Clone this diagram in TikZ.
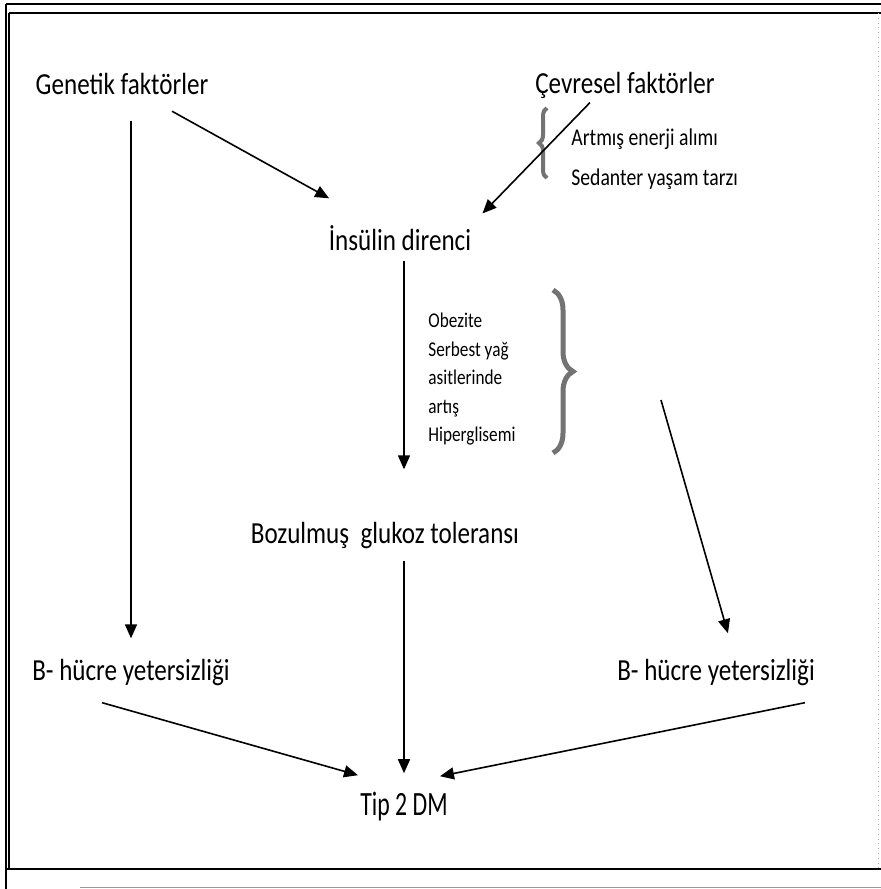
\documentclass[tikz,border=0pt]{standalone}
\usepackage{fontspec}
\setmainfont[FakeStretch=0.82]{Carlito}
\usetikzlibrary{arrows.meta, decorations.pathreplacing}
\tikzset{
    t/.style={inner sep=2pt, anchor=base, font=\fontsize{15.3}{18}\selectfont}, % main labels
    s/.style={inner sep=2pt, anchor=base west, font=\fontsize{12}{14}\selectfont}, % small labels
    e/.style={line width=0.8pt, ->, >={Triangle[length=7pt, width=6pt]}},
    br/.style={draw=black!55, line width=2pt, decorate, decoration={brace, amplitude=#1}}, % gray braces
    br/.default=5pt,
    fr/.style={line width=1pt} % frame
}

\begin{document}
\begin{tikzpicture}[x=0.5pt, y=-0.5pt]
        \fill[white] (0,0) rectangle (881,889);
        \useasboundingbox (0,0) rectangle (881,889);

        % frame
        \draw[fr] (6,4) -- (881,4);
        \draw[fr] (9,13) -- (881,13);
        \draw[fr] (6,4) -- (6,889);
        \draw[fr] (9,13) -- (9,869);
        \draw[fr] (6,869) -- (881,869);
        \draw[black!35, dotted] (878,13) -- (878,869);
        \draw[black!40] (80,887) -- (881,887);

        \node[t] (GF) at (122,94)
        {Genetik faktörler};
        \node[t] (CF) at (625,93)
        {Çevresel faktörler};
        \node[s] (AE) at (567,145)
        {Artmış enerji alımı};
        \node[s] (ST) at (567,185)
        {Sedanter yaşam tarzı};
        \node[t] (ID) at (400,250)
        {İnsülin direnci};
        \node[align=left, anchor=north west, inner sep=0pt, font=\fontsize{10.5}{14.2}\selectfont] (OB) at (428,313)
        {Obezite\\Serbest yağ\\asitlerinde\\artış\\Hiperglisemi};
        \node[t] (BG) at (385,543)
        {Bozulmuş\ \ glukoz toleransı};
        \node[t] (BL) at (131,680)
        {B- hücre yetersizliği};
        \node[t] (BR) at (716,680)
        {B- hücre yetersizliği};
        \node[t, font=\fontsize{17}{20}\selectfont\addfontfeature{FakeStretch=0.7}] (DM) at (404,815)
        {Tip 2 DM};

        \draw[br=4pt] (547,178) -- (547,108);
        \draw[br=10pt, line width=2.5pt] (553,290) -- (553,453);
        \coordinate (OB-out) at (661,400);

        % arrows
        \draw[e, shorten <=13pt, shorten >=23pt] (GF) -- (ID);
        \draw[e, shorten >=5pt] ([xshift=-17.5pt]CF.south) -- (ID.north east);
        \draw[e, shorten <=11pt, shorten >=8pt] (GF.south -| BL.north) -- (BL.north);
        \draw[e, shorten <=3pt, shorten >=24pt] (ID.south -| DM.north) -- (BG.north -| DM.north);
        \draw[e, shorten <=4pt, shorten >=7pt] (BG.south -| DM.north) -- (DM.north);
        \draw[e, shorten >=11pt] (OB-out) -- ([xshift=9pt]BR.north);
        \draw[e] ([shift={(-29,13)}]BL.south) -- ([shift={(-46,-12)}]DM.north);
        \draw[e] ([shift={(89,13)}]BR.south) -- ([shift={(36,-11)}]DM.north);
      \end{tikzpicture}
\end{document}
